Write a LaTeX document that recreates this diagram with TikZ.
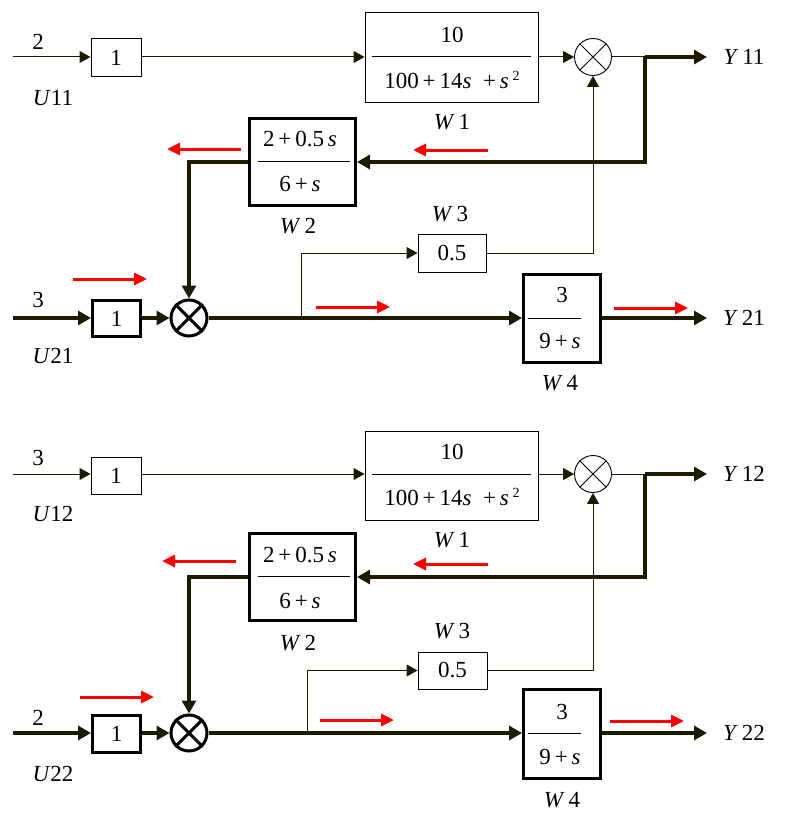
\documentclass[tikz,border=0pt]{standalone}
\usepackage{fontspec}
\setmainfont{Liberation Serif}
\usetikzlibrary{arrows.meta,calc}
\definecolor{lc}{RGB}{30,26,0}
\definecolor{rd}{RGB}{255,0,0}
\begin{document}
\begin{tikzpicture}[x=1pt,y=-1pt,
  every node/.style={font=\fontsize{23}{26}\selectfont, text=black},
  tbox/.style={draw=black,line width=1pt,rectangle,inner sep=0pt},
  Tbox/.style={draw=black,line width=3pt,rectangle,inner sep=0pt},
  sumt/.style={draw=black,line width=0.9pt,circle,inner sep=0pt,minimum size=37pt},
  sumT/.style={draw=black,line width=3pt,circle,inner sep=0pt,minimum size=36pt},
  thin/.style={draw=lc,line width=1pt},
  thk/.style={draw=lc,line width=3.2pt},
  ta/.style={-{Triangle[length=11pt,width=12pt]}},
  Ta/.style={-{Triangle[length=13pt,width=14pt]}},
  ra/.style={draw=rd,line width=3pt,-{Triangle[length=13pt,width=12pt]}},
  frac/.style={draw=black,line width=1pt}
]
\useasboundingbox (0,0) rectangle (796,832);
\fill[white] (0,0) rectangle (796,832);

% ================= TOP HALF =================
\node[tbox,minimum width=50pt,minimum height=38pt] (b1a) at (116,58) {1};
\node[tbox,minimum width=173pt,minimum height=90pt] (W1a) at (451.5,58) {};
\node (W1an) at (452,35) {10};
\node (W1ad) at (452,80) {100\,+\,14\textit{s}\ \ +\,\textit{s}\,\raisebox{0.75ex}{\fontsize{14}{15}\selectfont 2}};
\draw[frac] ($(W1a.center)+(-80,-1)$) -- ($(W1a.center)+(79,-1)$);
\node[sumt] (s1a) at (593,57) {};
\draw[line width=0.8pt] (s1a.north east) -- (s1a.south west) (s1a.north west) -- (s1a.south east);

\node[Tbox,minimum width=106pt,minimum height=87pt] (W2a) at (302.5,162) {};
\node (W2an) at (300,139) {2\,+\,0.5\,\textit{s}};
\node (W2ad) at (300,184) {6\,+\,\textit{s}};
\draw[frac] ($(W2a.center)+(-45,-1)$) -- ($(W2a.center)+(47,-1)$);

\node[tbox,minimum width=68pt,minimum height=38pt] (W3a) at (452,253) {0.5};
\node[Tbox,minimum width=77pt,minimum height=88pt] (W4a) at (562,318.5) {};
\node (W4an) at (562,295) {3};
\node (W4ad) at (560,341) {9\,+\,\textit{s}};
\draw[frac] ($(W4a.center)+(-34,-0.5)$) -- ($(W4a.center)+(19,-0.5)$);

\node[Tbox,minimum width=48pt,minimum height=36pt] (b2a) at (116.5,318.5) {1};
\node[sumT] (s2a) at (189,318) {};
\draw[line width=3pt] (s2a.north east) -- (s2a.south west) (s2a.north west) -- (s2a.south east);

% labels
\node (l2a) at (38,42) {2};
\node (U11) at (53,98) {\textit{U}11};
\node (lW1a) at (452,122) {\textit{W}\,1};
\node (lW2a) at (298,226) {\textit{W}\,2};
\node (lW3a) at (450,214) {\textit{W}\,3};
\node (lW4a) at (560,383) {\textit{W}\,4};
\node (l3a) at (38,300) {3};
\node (U21) at (53,356) {\textit{U}21};
\node (Y11) at (744,57) {\textit{Y}\,11};
\node (Y21) at (744,318) {\textit{Y}\,21};

% connectors
\coordinate (in1a) at (13,57);
\coordinate (br1a) at (645,57);
\coordinate (Y11e) at (707,57);
\coordinate (in2a) at (13,318);
\coordinate (br2a) at (301,318);
\coordinate (Y21e) at (707,318);
\draw[thin,ta] (in1a) -- (in1a -| b1a.west);
\draw[thin,ta] (b1a.east |- in1a) -- (in1a -| W1a.west);
\draw[thin,ta] (W1a.east |- s1a) -- (s1a.west);
\draw[thin] (s1a.east) -- (br1a);
\draw[thk,Ta] (br1a) -- (Y11e);
\draw[thk,Ta,line join=miter] (br1a) |- (W2a.east);
\draw[thk,Ta] (W2a.west) -| (s2a.north);
\draw[thk,Ta] (in2a) -- (in2a -| b2a.west);
\draw[thk,Ta] (b2a.east |- s2a) -- (s2a.west);
\draw[thk,Ta] (s2a.east) -- (s2a -| W4a.west);
\draw[thin,ta] (br2a) |- (W3a.west);
\draw[thin,ta] (W3a.east) -| (s1a.south);
\draw[thk,Ta] (W4a.east |- Y21e) -- (Y21e);

% red arrows
\draw[ra] (241,149) -- (167,149);
\draw[ra] (488,150) -- (413,150);
\draw[ra] (73,279) -- (147,279);
\draw[ra] (316,307) -- (390,307);
\draw[ra] (614,308) -- (688,308);

% ================= BOTTOM HALF =================
\node[tbox,minimum width=50pt,minimum height=37pt] (b1b) at (116,475.5) {1};
\node[tbox,minimum width=173pt,minimum height=89pt] (W1b) at (451.5,475.5) {};
\node (W1bn) at (452,452) {10};
\node (W1bd) at (452,497) {100\,+\,14\textit{s}\ \ +\,\textit{s}\,\raisebox{0.75ex}{\fontsize{14}{15}\selectfont 2}};
\draw[frac] ($(W1b.center)+(-80,-1.5)$) -- ($(W1b.center)+(79,-1.5)$);
\node[sumt] (s1b) at (593,474) {};
\draw[line width=0.8pt] (s1b.north east) -- (s1b.south west) (s1b.north west) -- (s1b.south east);

\node[Tbox,minimum width=106pt,minimum height=87pt] (W2b) at (302.5,577) {};
\node (W2bn) at (300,555) {2\,+\,0.5\,\textit{s}};
\node (W2bd) at (300,601) {6\,+\,\textit{s}};
\draw[frac] ($(W2b.center)+(-45,-1)$) -- ($(W2b.center)+(47,-1)$);

\node[tbox,minimum width=69pt,minimum height=37pt] (W3b) at (452.5,670.5) {0.5};
\node[Tbox,minimum width=77pt,minimum height=89pt] (W4b) at (562,734) {};
\node (W4bn) at (562,712) {3};
\node (W4bd) at (560,757) {9\,+\,\textit{s}};
\draw[frac] ($(W4b.center)+(-34,-1)$) -- ($(W4b.center)+(19,-1)$);

\node[Tbox,minimum width=48pt,minimum height=37pt] (b2b) at (116.5,734) {1};
\node[sumT] (s2b) at (189,733) {};
\draw[line width=3pt] (s2b.north east) -- (s2b.south west) (s2b.north west) -- (s2b.south east);

% labels
\node (l3b) at (38,458) {3};
\node (U12) at (53,514) {\textit{U}12};
\node (lW1b) at (452,540) {\textit{W}\,1};
\node (lW2b) at (298,643) {\textit{W}\,2};
\node (lW3b) at (452,631) {\textit{W}\,3};
\node (lW4b) at (562,800) {\textit{W}\,4};
\node (l2b) at (38,718) {2};
\node (U22) at (53,774) {\textit{U}22};
\node (Y12) at (744,474) {\textit{Y}\,12};
\node (Y22) at (744,733) {\textit{Y}\,22};

% connectors
\coordinate (in1b) at (13,474);
\coordinate (br1b) at (645,474);
\coordinate (Y12e) at (707,474);
\coordinate (in2b) at (13,733);
\coordinate (br2b) at (307,733);
\coordinate (Y22e) at (707,733);
\draw[thin,ta] (in1b) -- (in1b -| b1b.west);
\draw[thin,ta] (b1b.east |- in1b) -- (in1b -| W1b.west);
\draw[thin,ta] (W1b.east |- s1b) -- (s1b.west);
\draw[thin] (s1b.east) -- (br1b);
\draw[thk,Ta] (br1b) -- (Y12e);
\draw[thk,Ta,line join=miter] (br1b) |- (W2b.east);
\draw[thk,Ta] (W2b.west) -| (s2b.north);
\draw[thk,Ta] (in2b) -- (in2b -| b2b.west);
\draw[thk,Ta] (b2b.east |- s2b) -- (s2b.west);
\draw[thk,Ta] (s2b.east) -- (s2b -| W4b.west);
\draw[thin,ta] (br2b) |- (W3b.west);
\draw[thin,ta] (W3b.east) -| (s1b.south);
\draw[thk,Ta] (W4b.east |- Y22e) -- (Y22e);

% red arrows
\draw[ra] (236,561) -- (162,561);
\draw[ra] (488,564) -- (413,564);
\draw[ra] (80,697) -- (154,697);
\draw[ra] (320,720) -- (394,720);
\draw[ra] (610,721) -- (684,721);
\end{tikzpicture}
\end{document}
